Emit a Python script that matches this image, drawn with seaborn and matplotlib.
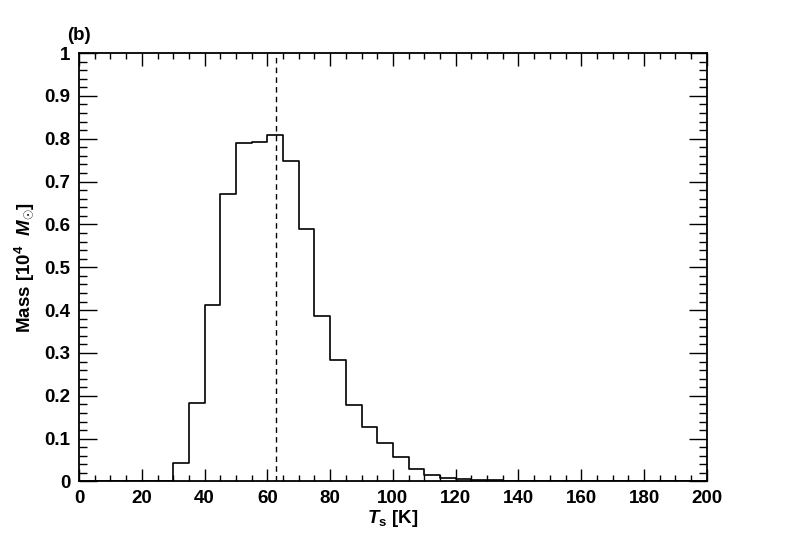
import numpy as np
import pandas as pd
import matplotlib
matplotlib.use("Agg")
import matplotlib.pyplot as plt
import seaborn as sns
from matplotlib.ticker import MultipleLocator

# temperature bins [K] (5 K wide) and mass per bin [1e4 Msun]
bin_edges = list(range(0, 205, 5))
mass = [0.0, 0.0, 0.0, 0.0, 0.0, 0.0,
        0.044, 0.184, 0.413, 0.671, 0.791, 0.793, 0.808, 0.749,
        0.590, 0.387, 0.283, 0.178, 0.127, 0.089, 0.058, 0.029,
        0.015, 0.008, 0.005, 0.004, 0.0025, 0.0018, 0.0012, 0.0008,
        0.0005, 0.0003, 0.0002, 0.0001, 0.0001, 0.0, 0.0, 0.0, 0.0, 0.0]
t_median = 62.9

df = pd.DataFrame({
    "T": [0.5 * (a + b) for a, b in zip(bin_edges[:-1], bin_edges[1:])],
    "mass": mass,
})

sns.set_style("ticks")
plt.rcParams['font.family'] = ['Liberation Sans', 'DejaVu Sans']
plt.rcParams['font.weight'] = 'bold'
plt.rcParams['text.color'] = 'black'
plt.rcParams['axes.labelcolor'] = 'black'
plt.rcParams['xtick.color'] = 'black'
plt.rcParams['ytick.color'] = 'black'
plt.rcParams['axes.edgecolor'] = 'black'
plt.rcParams['mathtext.fontset'] = 'custom'
plt.rcParams['mathtext.rm'] = 'Liberation Sans:bold'
plt.rcParams['mathtext.it'] = 'Liberation Sans:bold:italic'
plt.rcParams['mathtext.bf'] = 'Liberation Sans:bold'

fs = 13.5

fig = plt.figure(figsize=(7.88, 5.36), dpi=100)
ax = fig.add_axes([0.1003, 0.1017, 0.7967, 0.7993])

sns.histplot(data=df, x="T", weights="mass", bins=bin_edges, element="step",
             fill=False, color="black", linewidth=1.2, ax=ax)
ax.axvline(t_median, color="black", linestyle=(0, (4, 3)), linewidth=1.0)

ax.set_xlim(0, 200)
ax.set_ylim(0, 1)
ax.xaxis.set_major_locator(MultipleLocator(20))
ax.xaxis.set_minor_locator(MultipleLocator(5))
ax.yaxis.set_minor_locator(MultipleLocator(0.02))
ax.set_yticks(np.arange(0, 1.01, 0.1))
ax.set_yticklabels(["0", "0.1", "0.2", "0.3", "0.4", "0.5", "0.6", "0.7",
                    "0.8", "0.9", "1"])

for s in ax.spines.values():
    s.set_visible(True)
    s.set_linewidth(1.3)
    s.set_color("black")

ax.tick_params(axis="both", which="both", direction="in", top=True,
               right=True, width=1.0, labelsize=fs, pad=6, colors="black")
ax.tick_params(axis="x", which="major", length=9)
ax.tick_params(axis="x", which="minor", length=4.5)
ax.tick_params(axis="y", which="major", length=13)
ax.tick_params(axis="y", which="minor", length=6)
for lab in ax.get_xticklabels() + ax.get_yticklabels():
    lab.set_fontweight("bold")

ax.set_xlabel(r"$T_{\rm s}$ [K]", fontsize=fs, fontweight="bold",
              labelpad=1, color="black")
ax.set_ylabel(r"Mass [10$^4$  $M_{\odot}$]", fontsize=fs, fontweight="bold",
              labelpad=6, color="black")
fig.text(0.085, 0.925, "(b)", fontsize=fs, fontweight="bold", color="black")

fig.savefig("out.png", dpi=100)
